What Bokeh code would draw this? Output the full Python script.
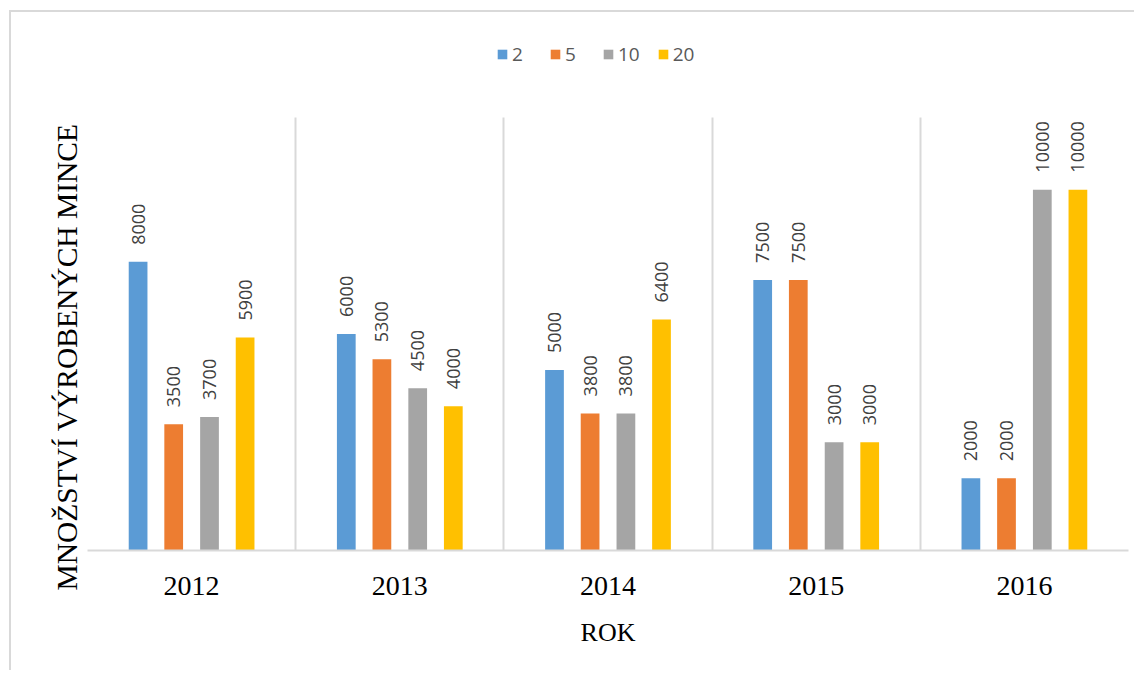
from bokeh.plotting import figure
from bokeh.models import ColumnDataSource, Range1d, FactorRange, FixedTicker, Title, Legend, LegendItem
from bokeh.transform import dodge
from bokeh.core.properties import value
from bokeh.embed import file_html
from bokeh.resources import INLINE
import math

years = ["2012", "2013", "2014", "2015", "2016"]
series_names = ["2", "5", "10", "20"]
values_2 = [8000, 6000, 5000, 7500, 2000]
values_5 = [3500, 5300, 3800, 7500, 2000]
values_10 = [3700, 4500, 3800, 3000, 10000]
values_20 = [5900, 4000, 6400, 3000, 10000]
colors = ["#5B9BD5", "#ED7D31", "#A5A5A5", "#FFC000"]
offsets = [-0.257, -0.086, 0.086, 0.257]

AXIS_MAX = 12000          # value at the top of the gridlines
FRAME_H, GRID_H = 515, 433  # frame is taller than the gridded area so the legend fits inside
Y_END = AXIS_MAX * FRAME_H / GRID_H

p = figure(
    x_range=FactorRange(*years, range_padding=0, factor_padding=0),
    y_range=Range1d(0, Y_END),
    width=1125, height=660,
    output_backend="svg", toolbar_location=None,
    min_border_left=76, min_border_right=8, min_border_top=23, min_border_bottom=122,
)
p.styles = {"margin-left": "9px", "margin-top": "10px",
            "border-top": "2px solid #d9d9d9", "border-left": "2px solid #d9d9d9"}
p.outline_line_color = None

items = []
for name, vals, col, off in zip(series_names, [values_2, values_5, values_10, values_20], colors, offsets):
    src = ColumnDataSource(dict(x=years, top=vals, lab=[str(v) for v in vals]))
    r = p.vbar(x=dodge("x", off, range=p.x_range), top="top", width=0.09, source=src,
               fill_color=col, line_color=None)
    p.text(x=dodge("x", off, range=p.x_range), y="top", text="lab", source=src,
           angle=math.pi / 2, text_align="left", text_baseline="middle", y_offset=-17,
           text_font=value("Open Sans"), text_font_size="18px", text_color="#404040")
    items.append(LegendItem(label=name, renderers=[r]))

g = p.xgrid[0]
g.ticker = FixedTicker(ticks=[0, 1, 2, 3, 4, 5])
g.grid_line_color = "#d9d9d9"
g.grid_line_width = 2
if "cross_bounds" in g.properties():
    g.cross_bounds = (0, AXIS_MAX)
p.ygrid.grid_line_color = None

p.yaxis.visible = False
p.xaxis.axis_line_color = "#d9d9d9"
p.xaxis.axis_line_width = 2
p.xaxis.major_tick_line_color = None
p.xaxis.minor_tick_line_color = None
p.xaxis.major_label_text_font = "Liberation Serif"
p.xaxis.major_label_text_font_size = "28px"
p.xaxis.major_label_text_color = "#000000"
p.xaxis.major_label_standoff = 20
p.xaxis.axis_label = "ROK"
p.xaxis.axis_label_text_font = "Liberation Serif"
p.xaxis.axis_label_text_font_size = "26px"
p.xaxis.axis_label_text_font_style = "normal"
p.xaxis.axis_label_text_color = "#000000"
p.xaxis.axis_label_standoff = 20

ytitle = Title(text="MNOŽSTVÍ VÝROBENÝCH MINCE", align="left", offset=-40,
               text_font="Liberation Serif", text_font_size="29.5px",
               text_font_style="normal", text_color="#000000")
p.add_layout(ytitle, "left")

leg = Legend(items=items, location=(409, 483), orientation="horizontal",
             padding=0, margin=0, spacing=17, glyph_width=12, glyph_height=12,
             label_standoff=4, label_text_font="Open Sans",
             label_text_font_size="19px", label_text_color="#595959",
             border_line_color=None, background_fill_alpha=0)
p.add_layout(leg)

open("out.html", "w").write(file_html(p, INLINE))
